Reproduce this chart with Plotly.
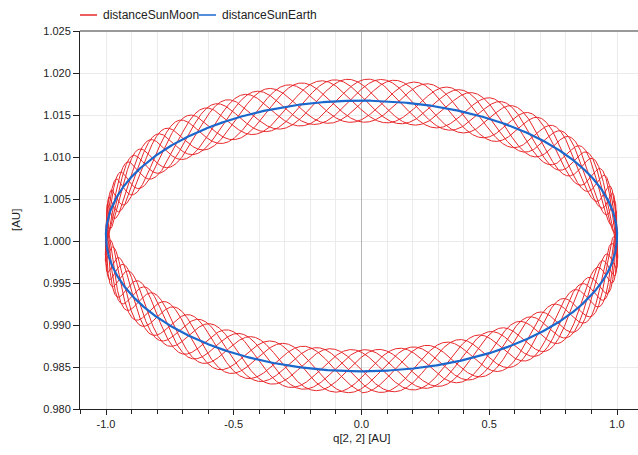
import numpy as np
import plotly.graph_objects as go

# ---- values (orbit parameters of the simulation) ----
series_names = ["distanceSunMoon", "distanceSunEarth"]
series_colors = ["#e8282b", "#1b67cc"]
semi_major_axis = 1.0006          # AU, centre of the blue curve
eccentricity = 0.0161             # top 1.0167, bottom 0.9845
moon_distance = 0.00257           # AU, half-width of the red band
synodic_months_per_year = 12.368
years_simulated = 8
x_tick_values = [-1.0, -0.5, 0.0, 0.5, 1.0]
x_tick_labels = ["-1.0", "-0.5", "0.0", "0.5", "1.0"]
y_tick_values = [0.980, 0.985, 0.990, 0.995, 1.000, 1.005, 1.010, 1.015, 1.020, 1.025]
y_tick_labels = ["0.980", "0.985", "0.990", "0.995", "1.000", "1.005", "1.010", "1.015", "1.020", "1.025"]

# ---- simulate the traces ----
t = np.linspace(0, years_simulated, 4000 * years_simulated)
nu = 2 * np.pi * t
r_earth = semi_major_axis * (1 - eccentricity**2) / (1 + eccentricity * np.cos(nu))
q_earth = r_earth * np.sin(nu)
phi = 2 * np.pi * synodic_months_per_year * t
r_moon = r_earth - moon_distance * np.cos(phi)
q_moon = q_earth + moon_distance * np.sin(phi + nu)

fig = go.Figure()
fig.add_trace(go.Scatter(x=q_moon, y=r_moon, mode="lines", name=series_names[0],
                         line=dict(color=series_colors[0], width=1.0), showlegend=False))
fig.add_trace(go.Scatter(x=q_earth[:4001], y=r_earth[:4001], mode="lines", name=series_names[1],
                         line=dict(color=series_colors[1], width=2.2), showlegend=False))

W, H = 638, 455
L, R, T, B = 80, 0, 31, 46
font = "Liberation Sans, Arial, sans-serif"

def px_x(p):
    return (p - L) / (W - L - R)

def px_y(p):
    return 1 - (p - T) / (H - T - B)

# manual legend (top-left)
legend_items = [(80, 97, 101), (199, 216, 220)]
for (x0, x1, xt), name, col in zip(legend_items, series_names, series_colors):
    fig.add_shape(type="line", xref="paper", yref="paper", x0=px_x(x0), x1=px_x(x1),
                  y0=px_y(15), y1=px_y(15), line=dict(color=col, width=1.5))
    fig.add_annotation(xref="paper", yref="paper", x=px_x(xt), y=px_y(15), text=name,
                       showarrow=False, xanchor="left", yanchor="middle",
                       font=dict(size=12, color="#222", family=font))

# axis titles
fig.add_annotation(xref="paper", yref="paper", x=px_x(362), y=px_y(438), text="q[2, 2] [AU]",
                   showarrow=False, xanchor="center", yanchor="middle",
                   font=dict(size=11.5, color="#222", family=font))
fig.add_annotation(xref="paper", yref="paper", x=px_x(16), y=px_y(220), text="[AU]",
                   showarrow=False, xanchor="center", yanchor="middle", textangle=-90,
                   font=dict(size=11.5, color="#222", family=font))

# top border line
fig.add_shape(type="line", xref="paper", yref="paper", x0=0, x1=1, y0=1, y1=1,
              line=dict(color="#777", width=1.5))

fig.update_layout(
    width=W, height=H, margin=dict(l=L, r=R, t=T, b=B, autoexpand=False),
    plot_bgcolor="white", paper_bgcolor="white",
    font=dict(family=font, size=11, color="#222"),
    xaxis=dict(range=[-1.1018, 1.0822], tickvals=x_tick_values, ticktext=x_tick_labels,
               ticks="outside", ticklen=5, tickcolor="#222", showline=True, linecolor="#222",
               linewidth=1, showgrid=True, gridcolor="#ebebeb", gridwidth=1,
               zeroline=True, zerolinecolor="#b5b5b5", zerolinewidth=1,
               minor=dict(dtick=0.1, tick0=0, ticks="outside", ticklen=4, tickcolor="#222",
                          showgrid=True, gridcolor="#ebebeb"),
               automargin=False, fixedrange=True),
    yaxis=dict(range=[0.98, 1.025], tickvals=y_tick_values, ticktext=y_tick_labels,
               ticks="outside", ticklen=6, tickcolor="#222", showline=True, linecolor="#222",
               linewidth=1, showgrid=True, gridcolor="#ebebeb", zeroline=False,
               automargin=False, fixedrange=True),
)

fig.write_html("out.html", config={"displayModeBar": False},
               post_script="document.body.style.margin='0';document.body.style.overflow='hidden';")
